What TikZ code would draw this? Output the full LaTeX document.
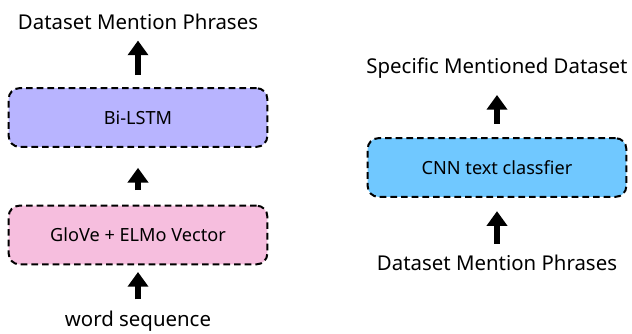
\documentclass[tikz,border=0pt]{standalone}
\usepackage{fontspec}
\setmainfont{Noto Sans}
\usetikzlibrary{positioning,arrows.meta}

\definecolor{lstmblue}{RGB}{184,180,255}
\definecolor{glovepink}{RGB}{246,190,222}
\definecolor{cnnblue}{RGB}{112,200,255}

\tikzset{
  stagebox/.style={draw=black,line width=1.5pt,dash pattern=on 5pt off 3pt,
    rounded corners=8pt,minimum width=194pt,minimum height=44pt,
    font=\fontsize{13.6}{16}\selectfont},
  flowtext/.style={font=\fontsize{15.3}{18}\selectfont},
  uparrow/.style={line width=5.2pt,-{Triangle[width=15pt,length=11pt]}}
}

\begin{document}
\begin{tikzpicture}[x=0.75pt,y=0.75pt]
\useasboundingbox (0,0) rectangle (632,333);

% left: phrase extraction
\node[stagebox,fill=glovepink] (glove) at (138,98) {GloVe + ELMo Vector};
\node[stagebox,fill=lstmblue] (bilstm) at (138,215.5) {Bi-LSTM};
\node[flowtext] (words) at (138,12) {word sequence};
\node[flowtext] (phrases) at (138,311) {Dataset Mention Phrases};

\draw[uparrow,shorten <=5pt,shorten >=5pt] (words.north) -- (glove.south);
\draw[uparrow,shorten <=11pt,shorten >=15pt] (glove.north) -- (bilstm.south);
\draw[uparrow,shorten <=9pt,shorten >=4.5pt] (bilstm.north) -- (phrases.south);

% right: dataset classification
\node[stagebox,fill=cnnblue] (cnn) at (497,165.5) {CNN text classfier};
\node[flowtext] (mentions) at (497,70) {Dataset Mention Phrases};
\node[flowtext] (dataset) at (497,265) {Specific Mentioned Dataset};

\draw[uparrow,shorten <=5pt,shorten >=10pt] (mentions.north) -- (cnn.south);
\draw[uparrow,shorten <=10pt,shorten >=9pt] (cnn.north) -- (dataset.south);
\end{tikzpicture}
\end{document}
